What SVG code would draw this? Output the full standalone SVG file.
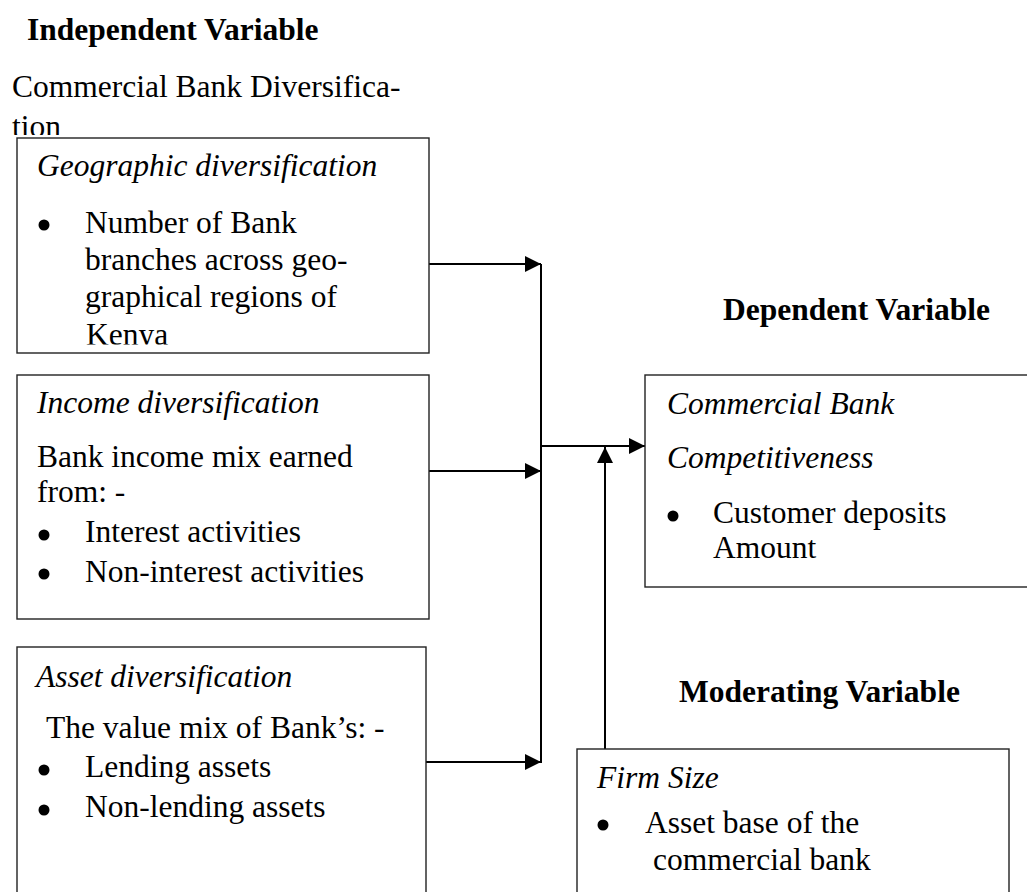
<svg xmlns="http://www.w3.org/2000/svg" width="1027" height="892" viewBox="0 0 1027 892">
<style>
text{font-family:"Liberation Serif","Times New Roman",serif;font-size:31.5px;fill:#000}
.b{font-weight:bold}
.i{font-style:italic}
.box{fill:#fff;stroke:#222;stroke-width:1.4}
.c{fill:none;stroke:#000;stroke-width:2}
.dot{fill:#000}
</style>
<defs>
<marker id="ah" markerUnits="userSpaceOnUse" markerWidth="16" markerHeight="16" refX="16" refY="8" orient="auto">
<path d="M0,0 L16,8 L0,16 z" fill="#000"/>
</marker>
<clipPath id="clipTion"><rect x="0" y="100" width="460" height="35"/></clipPath>
<clipPath id="clipKenya"><rect x="17" y="315" width="412" height="29.5"/></clipPath>
</defs>
<rect width="1027" height="892" fill="#fff"/>
<g id="header-independent">
<text class="b" x="27" y="40">Independent Variable</text>
<text x="12" y="97">Commercial Bank Diversifica-</text>
<text x="12" y="137" clip-path="url(#clipTion)">tion</text>
</g>
<g id="connectors">
<line class="c" x1="429" y1="264" x2="541" y2="264" marker-end="url(#ah)"/>
<line class="c" x1="541" y1="264" x2="541" y2="763"/>
<line class="c" x1="429" y1="471" x2="541" y2="471" marker-end="url(#ah)"/>
<line class="c" x1="426" y1="762" x2="541" y2="762" marker-end="url(#ah)"/>
<line class="c" x1="541" y1="446" x2="645" y2="446" marker-end="url(#ah)"/>
<line class="c" x1="605" y1="749" x2="605" y2="447" marker-end="url(#ah)"/>
</g>
<g id="geographic">
<rect class="box" x="17" y="138" width="412" height="215"/>
<text class="i" x="37" y="176">Geographic diversification</text>
<circle class="dot" cx="44" cy="225" r="5.5"/>
<text x="85" y="233">Number of Bank</text>
<text x="85" y="270">branches across geo-</text>
<text x="85" y="307">graphical regions of</text>
<text x="86" y="345" clip-path="url(#clipKenya)">Kenya</text>
</g>
<g id="income">
<rect class="box" x="17" y="375" width="412" height="244"/>
<text class="i" x="37" y="413">Income diversification</text>
<text x="37" y="467">Bank income mix earned</text>
<text x="37" y="502">from: -</text>
<circle class="dot" cx="44" cy="535" r="5.5"/>
<text x="85" y="542">Interest activities</text>
<circle class="dot" cx="44" cy="574" r="5.5"/>
<text x="85" y="582">Non-interest activities</text>
</g>
<g id="asset">
<rect class="box" x="17" y="647" width="409" height="260"/>
<text class="i" x="36" y="687">Asset diversification</text>
<text x="46" y="738">The value mix of Bank’s: -</text>
<circle class="dot" cx="44" cy="770" r="5.5"/>
<text x="85" y="777">Lending assets</text>
<circle class="dot" cx="44" cy="810" r="5.5"/>
<text x="85" y="817">Non-lending assets</text>
</g>
<g id="dependent">
<text class="b" x="723" y="320">Dependent Variable</text>
<rect class="box" x="645" y="375" width="400" height="212"/>
<text class="i" x="667" y="414">Commercial Bank</text>
<text class="i" x="667" y="468">Competitiveness</text>
<circle class="dot" cx="673" cy="516" r="5.5"/>
<text x="713" y="523">Customer deposits</text>
<text x="713" y="558">Amount</text>
</g>
<g id="moderating">
<text class="b" x="679" y="702">Moderating Variable</text>
<rect class="box" x="577" y="749" width="432" height="160"/>
<text class="i" x="597" y="788">Firm Size</text>
<circle class="dot" cx="603" cy="825" r="5.5"/>
<text x="645" y="833">Asset base of the</text>
<text x="653" y="870">commercial bank</text>
</g>
</svg>
